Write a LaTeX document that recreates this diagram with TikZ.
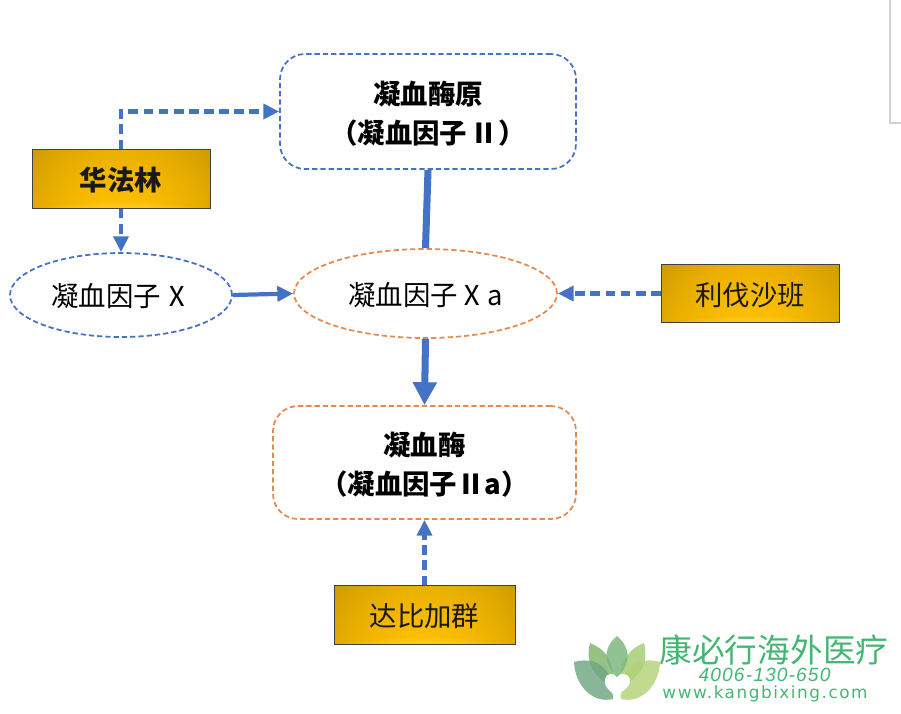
\documentclass[tikz,border=0pt]{standalone}
\usepackage{fontspec}
\setmainfont{Noto Sans CJK SC}
\newfontfamily\urlfont[LetterSpace=9]{DejaVu Sans}
\newfontfamily\telfont[LetterSpace=6]{Liberation Sans}
\usetikzlibrary{arrows.meta,shapes.geometric}
\definecolor{lineblue}{HTML}{4472C4}
\definecolor{lineorange}{HTML}{E58A4E}
\definecolor{logogreen}{HTML}{45B573}
\definecolor{petaltop}{HTML}{7AB57C}
\pgfdeclarefunctionalshading{goldbar}{\pgfpoint{-50bp}{-50bp}}{\pgfpoint{50bp}{50bp}}{}{
	2 copy 50 add 32 div dup mul exch 38 div dup mul add 1 exch sub dup 0 lt {pop 0} if
	3 1 roll
	exch 50 div dup mul 0.44 mul exch 50 add 100 div dup mul 0.15 mul add 1 exch sub
	dup 0.753 mul 2 index 0.12 mul add 2 index 0.42 mul 4 -1 roll pop}
\newcommand\lbl[1]{\raisebox{-2.6pt}[\height][\depth]{\begin{tabular}{@{}c@{}}#1\end{tabular}}}
\tikzset{
	drugbox/.style={rectangle,draw=black!75,shading=goldbar,text=black!90,minimum width=#1,minimum height=1.17cm,inner sep=0},
	factorbox/.style={rectangle,rounded corners=0.5cm,draw=#1,line width=1pt,dash pattern=on 3pt off 1.7pt,inner sep=0,font=\bfseries\fontsize{15.6}{22}\selectfont},
	factorell/.style={ellipse,draw=#1,line width=1pt,dash pattern=on 3pt off 1.7pt,inner sep=0},
	flow/.style={draw=lineblue,line width=2.4pt,-{Triangle[length=9pt,width=8.5pt]}},
	block/.style={flow,dash pattern=on 5.6pt off 3pt},
	petal/.style={opacity=0.82}
}
\begin{document}
\begin{tikzpicture}[x=0.02cm,y=-0.02cm,every node/.style={font=\fontsize{15.6}{20}\selectfont}]
\useasboundingbox (0,0) rectangle (901,713);
\draw[black!18,line width=0.7pt] (890,0) -- (890,123) -- (901,123);

\node[factorbox=lineblue,minimum width=5.92cm,minimum height=2.3cm] (proto) at (428,111.5) {\lbl{凝血酶原\\（凝血因子\hspace{2pt}Ⅱ）}};
\node[factorbox=lineorange,minimum width=6.06cm,minimum height=2.26cm] (thrombin) at (424.5,462.5) {\lbl{凝血酶\\（凝血因子Ⅱa）}};
\node[factorell=lineblue,minimum width=4.44cm,minimum height=1.68cm] (fx) at (121,295) {\lbl{凝血因子\hspace{1.3pt}Ⅹ}};
\node[factorell=lineorange,minimum width=5.26cm,minimum height=1.78cm] (fxa) at (425.5,293.5) {\lbl{凝血因子\hspace{0.5pt}Ⅹ\hspace{0.5pt}a}};
\node[drugbox=3.56cm,font=\bfseries\fontsize{15.6}{20}\selectfont] (warfarin) at (121,179) {\lbl{华法林}};
\node[drugbox=3.56cm] (rivaroxaban) at (750,293.5) {\lbl{利伐沙班}};
\node[drugbox=3.62cm] (dabigatran) at (424.5,615) {\lbl{达比加群}};

\draw[block] (warfarin.north) |- (proto.west);
\draw[block] (warfarin.south) -- (fx.north);
\draw[flow] (fx.east) -- (fxa.west);
\draw[draw=lineblue,line width=4pt] (proto.south) -- (fxa.north);
\draw[draw=lineblue,line width=4pt,-{Triangle[length=13pt,width=13pt]}] (fxa.south) -- (thrombin.north);
\draw[block] (rivaroxaban.west) -- (fxa.east);
\draw[block] (dabigatran.north) -- (thrombin.south);

\foreach \side/\upperhex/\lowerhex in {-1/7FB56E/6FA583,1/A4CB72/B2D278}{
	\definecolor{uppercol}{HTML}{\upperhex}
	\definecolor{lowercol}{HTML}{\lowerhex}
	\fill[petal,fill=uppercol] (617+\side*27,643) .. controls (617+\side*33,665) and (617+\side*20,680) .. (617+\side*4,686)
		.. controls (617+\side*2,665) and (617+\side*9,650) .. (617+\side*27,643);
	\fill[petal,fill=lowercol] (617+\side*43,662) .. controls (617+\side*42,685) and (617+\side*25,704) .. (617+\side*4,699)
		.. controls (617+\side*2,672) and (617+\side*18,655) .. (617+\side*43,662);
}
\fill[petal,fill=petaltop] (617,636) .. controls (606,645) and (600,660) .. (617,678)
	.. controls (634,660) and (628,645) .. (617,636);
\fill[white] (616,699) .. controls (612,690) and (603,688) .. (605,679) .. controls (606,673) and (614,672) .. (617,678)
	.. controls (620,672) and (628,673) .. (630,679) .. controls (631,688) and (621,690) .. (616,699);

\node[text=logogreen,font=\fontsize{18.6}{20}\selectfont] (logoname) at (774,650) {康必行海外医疗};
\node[text=logogreen,font=\telfont\itshape\fontsize{10.9}{12}\selectfont] (logotel) at (764.5,675) {4006-130-650};
\node[text=logogreen,font=\urlfont\fontsize{9.6}{12}\selectfont] (logourl) at (765,694) {www.kangbixing.com};
\end{tikzpicture}
\end{document}
